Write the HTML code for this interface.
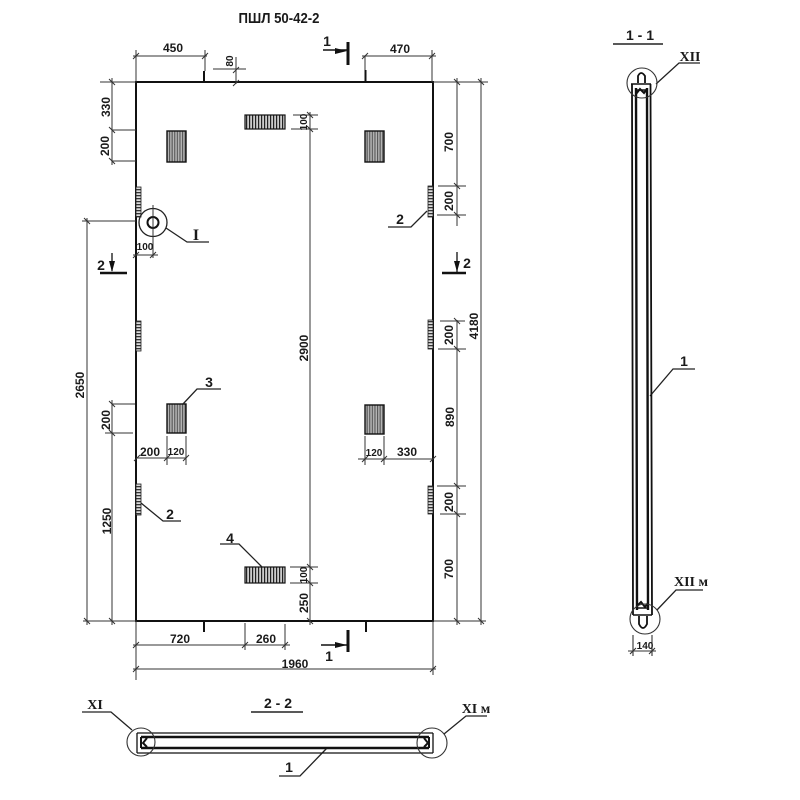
<!DOCTYPE html>
<html><head><meta charset="utf-8"><style>
html,body{margin:0;padding:0;background:#fff}
svg{display:block;filter:blur(.35px)}
text{font-family:"Liberation Sans",sans-serif;font-weight:bold;fill:#1a1a1a;text-anchor:middle;font-size:12px}
.s{font-size:10px}
.l{font-size:14px}
.r{font-family:"Liberation Serif",serif;font-size:14px}
</style></head><body>
<svg width="800" height="800" viewBox="0 0 800 800" xmlns="http://www.w3.org/2000/svg">
<defs>
<pattern id="h" width="2.6" height="10" patternUnits="userSpaceOnUse"><rect width="2.6" height="10" fill="#b4b4b4"/><rect width="1.1" height="10" fill="#555"/></pattern>
<pattern id="b" width="3" height="10" patternUnits="userSpaceOnUse"><rect width="3" height="10" fill="#ccc"/><rect width="1.2" height="10" fill="#222"/></pattern>
<pattern id="v" width="10" height="3" patternUnits="userSpaceOnUse"><rect width="10" height="3" fill="#ddd"/><rect width="10" height="1.3" fill="#333"/></pattern>
</defs>
<rect width="800" height="800" fill="#fff"/>

<!-- panel -->
<path d="M136 82H433V621H136Z" fill="none" stroke="#111" stroke-width="2"/>
<!-- inserts -->
<g fill="url(#h)" stroke="#111" stroke-width="1.4">
<rect x="167" y="131" width="19" height="31"/>
<rect x="365" y="131" width="19" height="31"/>
<rect x="167" y="404" width="19" height="29"/>
<rect x="365" y="405" width="19" height="29"/>
</g>
<g fill="url(#b)" stroke="#111" stroke-width="1.2">
<rect x="245" y="115" width="40" height="14"/>
<rect x="245" y="567" width="40" height="16"/>
</g>
<g fill="url(#v)" stroke="#222" stroke-width=".8">
<rect x="136" y="187" width="5" height="30"/>
<rect x="136" y="321" width="5" height="30"/>
<rect x="136" y="484" width="5" height="31"/>
<rect x="428" y="186" width="5" height="31"/>
<rect x="428" y="320" width="5" height="29"/>
<rect x="428" y="486" width="5" height="28"/>
</g>
<!-- detail I -->
<circle cx="153" cy="222.500" r="14" fill="none" stroke="#222" stroke-width="1.300"/>
<circle cx="153" cy="222.500" r="5.500" fill="none" stroke="#111" stroke-width="2"/>

<!-- thin dimension lines -->
<g fill="none" stroke="#333" stroke-width="1">
<path d="M136 50V82M133 56H207M205 50V71"/>
<path d="M213 69H246M236 57V84"/>
<path d="M365 56V70M362 56H436M432 50V82"/>
<path d="M433 82H488M457 78V226M481 78V625M457 320V625M438 186H466M437 215H466M440 321H465M438 349H466M437 486H466M440 514H466M433 621H486"/>
<path d="M100 82H136M112 78V165M112 130H136M112 161H136M87 218V625M82 221H136M112 400V625M112 404H135M105 433H133M83 621H136"/>
<path d="M136 458H186M167 436V465M186 436V465M358 459H433M365 436V465M384 436V465"/>
<path d="M133 255H158M153 205V258"/>
<path d="M310 112V625M293 115H318M291 129H318M290 567H318M290 583H318"/>
<path d="M136 621V680M245 623V650M285 624V650M133 645H290M133 669H436M433 621V675"/>
<!-- ticks -->
<path d="M133 59L139 53M202 59L208 53M233 73L239 67M233 86L239 80M362 59L368 53M429 59L435 53M454 79L460 85M478 79L484 85M454 183L460 189M454 212L460 218M454 318L460 324M454 346L460 352M454 483L460 489M454 511L460 517M454 618L460 624M478 618L484 624M109 79L115 85M109 127L115 133M109 158L115 164M84 218L90 224M84 618L90 624M109 401L115 407M109 430L115 436M109 618L115 624M134 461L140 455M164 461L170 455M183 461L189 455M362 462L368 456M381 462L387 456M430 462L436 456M133 258L139 252M150 258L156 252M307 112L313 118M307 126L313 132M307 564L313 570M307 580L313 586M307 618L313 624M133 648L139 642M242 648L248 642M282 648L288 642M133 672L139 666M430 672L436 666"/>
</g>
<!-- thick marks -->
<g fill="none" stroke="#111" stroke-width="2">
<path d="M204 71V82M365.500 70V82M204 621V632M366 621V632"/>
<path d="M348 42V65M348 630V652" stroke-width="3"/>
<path d="M100 273H127M442 273H466" stroke-width="2.500"/>
<path d="M323 50H347M321 645H347" stroke-width="1.500"/>
<path d="M112 253V271M457 252V272" stroke-width="1.300"/>
</g>
<path d="M347 51L335 48V54ZM347 645L335 642V648ZM112 272L109 261H115ZM457 272L454 261H460Z" fill="#111"/>

<!-- leaders -->
<g fill="none" stroke="#222" stroke-width="1.300">
<path d="M166 228L187 242H209M427 211L411 227H388M183 404L197 389H221M141 503L163 521H181M262 567L239 544H220"/>
<path d="M656 84L679 63H700M657 610L676 590H703M650 396L673 369H695"/>
<path d="M132 730L111 712H82M444 734L466 716H487M327 748L300 776H279"/>
<path d="M613 44H663M251 712H303" stroke-width="1.600"/>
</g>

<!-- section 1-1 -->
<g fill="none" stroke="#111" stroke-width="1.600">
<path d="M632 84L633 615M650.500 84L652 615" stroke-width="1.800"/>
<path d="M636 88L637 610M647 88L648 610" stroke-width="2.400"/>
<path d="M631 84H651M633 615H652M636 90H647M637 608H648" stroke-width="1.600"/>
<path d="M638 83V76Q641 70 645 76V83M639 616V624Q643 632 647 624V616" stroke-width="1.800"/>
<path d="M636 94L640 89L644 93L647 89M637 606L641 602L645 607L648 603" stroke-width="2"/>
</g>
<g fill="none" stroke="#333" stroke-width="1.100">
<circle cx="642" cy="83" r="15"/>
<circle cx="645" cy="619" r="15"/>
<path d="M633 635V656M652 635V656M628 651H656M630 654L636 648M649 654L655 648"/>
</g>

<!-- section 2-2 -->
<g fill="none" stroke="#111" stroke-width="1.500">
<path d="M137 733H433M137 753H433M137 733V753M433 733V753" stroke-width="1.300"/>
<path d="M141 737H429M141 748H429" stroke-width="2.400"/>
<path d="M141 737V748M429 737V748" stroke-width="2"/>
<path d="M147 738L143 743L147 747M424 738L428 743L424 747" stroke-width="2"/>
</g>
<g fill="none" stroke="#333" stroke-width="1.100">
<circle cx="141" cy="742" r="14"/>
<circle cx="432" cy="743" r="15"/>
</g>

<!-- title -->
<text x="279" y="23" style="font-size:15px" textLength="81" lengthAdjust="spacingAndGlyphs">ПШЛ 50-42-2</text>
<text x="173" y="52">450</text>
<text x="400" y="53">470</text>
<text class="s" transform="translate(233,61) rotate(-90)">80</text>
<text x="327" y="46" class="l">1</text>
<text x="329" y="661" class="l">1</text>
<text x="101" y="270" class="l">2</text>
<text x="467" y="268" class="l">2</text>
<text x="196" y="240" class="r" style="font-size:16px">I</text>
<text x="400" y="224" class="l">2</text>
<text x="209" y="387" class="l">3</text>
<text x="170" y="519" class="l">2</text>
<text x="230" y="543" class="l">4</text>

<!-- rotated dims -->
<g>
<text transform="translate(110,107) rotate(-90)">330</text>
<text transform="translate(109,146) rotate(-90)">200</text>
<text transform="translate(84,385) rotate(-90)">2650</text>
<text transform="translate(110,420) rotate(-90)">200</text>
<text transform="translate(111,521) rotate(-90)">1250</text>
<text transform="translate(453,142) rotate(-90)">700</text>
<text transform="translate(453,201) rotate(-90)">200</text>
<text transform="translate(453,335) rotate(-90)">200</text>
<text transform="translate(454,417) rotate(-90)">890</text>
<text transform="translate(453,502) rotate(-90)">200</text>
<text transform="translate(453,569) rotate(-90)">700</text>
<text transform="translate(478,326) rotate(-90)">4180</text>
<text transform="translate(308,348) rotate(-90)">2900</text>
<text transform="translate(307,122) rotate(-90)" class="s">100</text>
<text transform="translate(307,575) rotate(-90)" class="s">100</text>
<text transform="translate(308,603) rotate(-90)">250</text>
</g>
<text x="150" y="456">200</text>
<text x="176" y="455" class="s">120</text>
<text x="374" y="456" class="s">120</text>
<text x="407" y="456">330</text>
<text x="145" y="250" class="s">100</text>
<text x="180" y="643">720</text>
<text x="266" y="643">260</text>
<text x="295" y="668">1960</text>
<text x="645" y="649" class="s">140</text>

<!-- section labels -->
<text x="640" y="40" class="l">1 - 1</text>
<text x="690" y="61" class="r">XII</text>
<text x="691" y="586" class="r">XII м</text>
<text x="684" y="366" class="l">1</text>
<text x="278" y="708" class="l">2 - 2</text>
<text x="95" y="709" class="r">XI</text>
<text x="476" y="713" class="r">XI м</text>
<text x="289" y="772" class="l">1</text>
</svg>
</body></html>
